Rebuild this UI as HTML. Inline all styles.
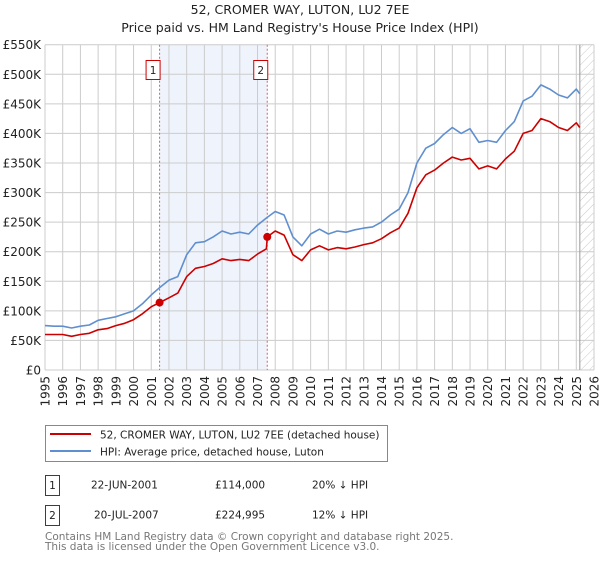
<!DOCTYPE html>
<html><head><meta charset="utf-8"><style>
body{margin:0;background:#fff;font-family:"Liberation Sans","DejaVu Sans",sans-serif;}
svg text{font-family:"DejaVu Sans","Liberation Sans",sans-serif;}
</style></head><body>
<svg id="chart" width="600" height="560" viewBox="0 0 600 560" xmlns="http://www.w3.org/2000/svg">
<defs><pattern id="hatch" width="6" height="6" patternUnits="userSpaceOnUse" patternTransform="rotate(45)"><line x1="0" y1="0" x2="0" y2="6" stroke="#bbb" stroke-width="0.8"/></pattern></defs>
<text x="300" y="14" text-anchor="middle" font-size="12.5" fill="#222">52, CROMER WAY, LUTON, LU2 7EE</text>
<text x="300" y="32" text-anchor="middle" font-size="12.5" fill="#222">Price paid vs. HM Land Registry's House Price Index (HPI)</text>
<g id="grid"></g><g id="marks"></g><g id="axes"></g>
<g>
<rect x="45.5" y="425.5" width="342" height="36" fill="#fff" stroke="#888"/>
<line x1="50" y1="434" x2="91" y2="434" stroke="#cc0000" stroke-width="2"/>
<text x="100" y="438.5" font-size="10.5" fill="#222">52, CROMER WAY, LUTON, LU2 7EE (detached house)</text>
<line x1="50" y1="451" x2="91" y2="451" stroke="#5f8fcf" stroke-width="2"/>
<text x="100" y="455.5" font-size="10.5" fill="#222">HPI: Average price, detached house, Luton</text>
</g>
<g font-size="10.5" fill="#222">
<rect x="45.5" y="475.5" width="14" height="20" fill="#fff" stroke="#cc0000"/>
<text x="52.5" y="489" text-anchor="middle">1</text>
<text x="91" y="488.5">22-JUN-2001</text>
<text x="215" y="488.5">£114,000</text>
<text x="312" y="488.5">20% ↓ HPI</text>
<rect x="45.5" y="505.5" width="14" height="20" fill="#fff" stroke="#cc0000"/>
<text x="52.5" y="519" text-anchor="middle">2</text>
<text x="94" y="518.5">20-JUL-2007</text>
<text x="215" y="518.5">£224,995</text>
<text x="312" y="518.5">12% ↓ HPI</text>
</g>
<text x="45" y="540" font-size="10.5" fill="#777">Contains HM Land Registry data © Crown copyright and database right 2025.</text>
<text x="45" y="550" font-size="10.5" fill="#777">This data is licensed under the Open Government Licence v3.0.</text>
</svg>
<script>
const hpiYears=[1995,1995.5,1996,1996.5,1997,1997.5,1998,1998.5,1999,1999.5,2000,2000.5,2001,2001.5,2002,2002.5,2003,2003.5,2004,2004.5,2005,2005.5,2006,2006.5,2007,2007.5,2008,2008.5,2009,2009.5,2010,2010.5,2011,2011.5,2012,2012.5,2013,2013.5,2014,2014.5,2015,2015.5,2016,2016.5,2017,2017.5,2018,2018.5,2019,2019.5,2020,2020.5,2021,2021.5,2022,2022.5,2023,2023.5,2024,2024.5,2025,2025.2];
const hpiValues=[75,74,74,71,74,76,84,87,90,95,100,112,127,140,152,158,195,215,217,225,235,230,233,230,245,257,268,262,225,210,230,238,230,235,233,237,240,242,250,262,272,300,350,375,383,398,410,400,408,385,388,385,405,420,455,463,482,475,465,460,475,467];
const priceYears=[1995,1996,1996.5,1997,1997.5,1998,1998.5,1999,1999.5,2000,2000.5,2001,2001.47,2002,2002.5,2003,2003.5,2004,2004.5,2005,2005.5,2006,2006.5,2007,2007.5,2007.55,2008,2008.5,2009,2009.5,2010,2010.5,2011,2011.5,2012,2012.5,2013,2013.5,2014,2014.5,2015,2015.5,2016,2016.5,2017,2017.5,2018,2018.5,2019,2019.5,2020,2020.5,2021,2021.5,2022,2022.5,2023,2023.5,2024,2024.5,2025,2025.2];
const priceValues=[60,60,57,60,62,68,70,75,79,85,95,107,114,122,130,158,172,175,180,188,185,187,185,196,205,225,235,228,195,185,203,210,203,207,205,208,212,215,222,232,240,265,308,330,338,350,360,355,358,340,345,340,357,370,400,405,425,420,410,405,418,410];
const saleLabels=["1","2"];
const saleYears=[2001.47,2007.55];
const saleValues=[114,224.995];
const yTicks=[0,50,100,150,200,250,300,350,400,450,500,550];
const yTickLabels=["£0","£50K","£100K","£150K","£200K","£250K","£300K","£350K","£400K","£450K","£500K","£550K"];
const xTicks=[1995,1996,1997,1998,1999,2000,2001,2002,2003,2004,2005,2006,2007,2008,2009,2010,2011,2012,2013,2014,2015,2016,2017,2018,2019,2020,2021,2022,2023,2024,2025,2026];
const dataEnd=2025.2;

const NS="http://www.w3.org/2000/svg";
const X0=45,X1=594,Y0=370,Y1=44.7;
const xs=y=>X0+(y-1995)/(2026-1995)*(X1-X0);
const ys=v=>Y0-v/550*(Y0-Y1);
function mk(tag,attrs,parent){const e=document.createElementNS(NS,tag);for(const k in attrs)e.setAttribute(k,attrs[k]);parent.appendChild(e);return e;}
const grid=document.getElementById('grid'),marks=document.getElementById('marks'),axes=document.getElementById('axes');
// shaded period
let r=mk('rect',{x:xs(saleYears[0]),y:Y1,width:xs(saleYears[1])-xs(saleYears[0]),height:Y0-Y1,fill:'#eef3fc'},grid);


let h=mk('rect',{x:xs(dataEnd),y:Y1,width:X1-xs(dataEnd),height:Y0-Y1,fill:'url(#hatch)'},grid);


yTicks.forEach((v,i)=>{
  let l=mk('line',{x1:X0,x2:X1,y1:ys(v),y2:ys(v),stroke:'#cccccc','stroke-width':1},grid);
  
  
  let t=mk('text',{x:X0-4,y:ys(v)+4.5,'text-anchor':'end','font-size':'12',fill:'#222'},axes);
  t.textContent=yTickLabels[i];
  
  
});
xTicks.forEach(y=>{
  let l=mk('line',{x1:xs(y),x2:xs(y),y1:Y1,y2:Y0,stroke:'#cccccc','stroke-width':1},grid);
  
  
  let t=mk('text',{x:0,y:0,'text-anchor':'end','font-size':'12',fill:'#222',transform:`translate(${xs(y)+4.5},376) rotate(-90)`},axes);
  t.textContent=String(y);
  
  
});
let el=mk('line',{x1:xs(dataEnd),x2:xs(dataEnd),y1:Y1,y2:Y0,stroke:'#999','stroke-width':1},grid);


saleYears.forEach((y,i)=>{
  let l=mk('line',{x1:xs(y),x2:xs(y),y1:Y1,y2:Y0,stroke:'#e06060','stroke-width':1,'stroke-dasharray':'2,2'},grid);
  
  
  let b=mk('rect',{x:xs(y)-13.5,y:60.5,width:14,height:19,fill:'#fff',stroke:'#cc0000'},axes);
  
  
  let t=mk('text',{x:xs(y)-6.5,y:74,'text-anchor':'middle','font-size':'10.5',fill:'#222'},axes);
  t.textContent=saleLabels[i];
  
  
});
const pts=(xa,va)=>xa.map((y,i)=>xs(y).toFixed(1)+','+ys(va[i]).toFixed(1)).join(' ');
let hp=mk('polyline',{points:pts(hpiYears,hpiValues),fill:'none',stroke:'#5f8fcf','stroke-width':1.6,'stroke-linejoin':'round'},marks);


let pp=mk('polyline',{points:pts(priceYears,priceValues),fill:'none',stroke:'#cc0000','stroke-width':1.6,'stroke-linejoin':'round'},marks);


saleYears.forEach((y,i)=>{
  let c=mk('circle',{cx:xs(y),cy:ys(saleValues[i]),r:4,fill:'#cc0000'},marks);
  
  
});
</script>
</body></html>
